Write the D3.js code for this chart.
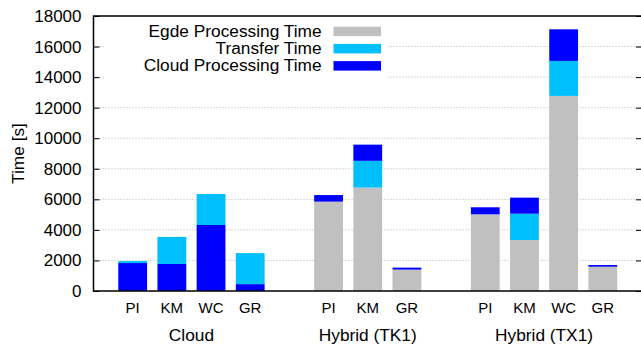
<!DOCTYPE html>
<html>
<head>
<meta charset="utf-8">
<script src="https://cdn.jsdelivr.net/npm/d3@7"></script>
<style>
  body { margin: 0; background: #fff; }
  svg { display: block; font-family: "Liberation Sans", Arial, sans-serif; }
</style>
</head>
<body>
<div id="chart"></div>
<script>
let w = 641;
let h = 346;

// data
let groups = ["Cloud", "Hybrid (TK1)", "Hybrid (TX1)"];
let apps = [["PI", "KM", "WC", "GR"], ["PI", "KM", "GR"], ["PI", "KM", "WC", "GR"]];
let edgeTime = [[0, 0, 0, 0], [5850, 6770, 1400], [5020, 3340, 12770, 1590]];
let transferTime = [[130, 1770, 2030, 2030], [0, 1750, 0], [0, 1720, 2290, 0]];
let cloudTime = [[1830, 1770, 4320, 450], [430, 1060, 130], [460, 1050, 2070, 110]];
// bottom -> top order of the stack in each group
let stackOrder = [["cloud", "transfer"], ["edge", "transfer", "cloud"], ["edge", "transfer", "cloud"]];
let yTicks = d3.range(0, 18001, 2000);

let seriesNames = {edge: "Egde Processing Time", transfer: "Transfer Time", cloud: "Cloud Processing Time"};
let seriesValues = {edge: edgeTime, transfer: transferTime, cloud: cloudTime};
let colors = {edge: "#c0c0c0", transfer: "#00bfff", cloud: "#0000ff"};
let legendOrder = ["edge", "transfer", "cloud"];

let plotLeft = 93.5, plotRight = 642, plotTop = 16, plotBottom = 291;

let svg = d3.select("#chart").append("svg")
  .attr("width", w)
  .attr("height", h);

// one slot per bar, one empty slot between groups
let bars = [];
let groupSlots = [];
let slot = 0;
groups.forEach((g, gi) => {
  let first = slot;
  apps[gi].forEach((a, ai) => {
    let y0 = 0;
    let segs = stackOrder[gi].map(k => {
      let v = seriesValues[k][gi][ai];
      let s = {key: k, y0: y0, y1: y0 + v};
      y0 += v;
      return s;
    });
    bars.push({group: gi, app: a, slot: slot, segs: segs});
    slot++;
  });
  groupSlots.push((first + slot - 1) / 2);
  slot++;
});

let xScale = d3.scaleLinear().domain([-1, slot - 1]).range([plotLeft, plotRight]);
let yScale = d3.scaleLinear().domain([0, 18000]).range([plotBottom, plotTop]);
let barW = (xScale(1) - xScale(0)) * 0.735;

// grid
svg.append("g").selectAll("line")
  .data(yTicks.filter(t => t > 0 && t < 18000))
  .enter().append("line")
    .attr("x1", plotLeft).attr("x2", plotRight)
    .attr("y1", d => yScale(d)).attr("y2", d => yScale(d))
    .attr("stroke", "#b0b0b0")
    .attr("stroke-width", 1)
    .attr("stroke-dasharray", "1,2");

// legend box hides the grid behind it
svg.append("rect")
  .attr("x", 104).attr("y", 18)
  .attr("width", 284).attr("height", 62)
  .attr("fill", "#fff");

// bars
let barGroups = svg.append("g").selectAll("g")
  .data(bars).enter().append("g");

barGroups.selectAll("rect")
  .data(d => d.segs.filter(s => s.y1 > s.y0).map(s => Object.assign({slot: d.slot}, s)))
  .enter().append("rect")
    .attr("x", d => xScale(d.slot) - barW / 2)
    .attr("width", barW)
    .attr("y", d => yScale(d.y1))
    .attr("height", d => yScale(d.y0) - yScale(d.y1))
    .attr("fill", d => colors[d.key]);

// y axis left and right (inward ticks)
let yAxisL = d3.axisLeft(yScale).tickValues(yTicks).tickFormat(d3.format("d")).tickSize(-6).tickPadding(12);
svg.append("g")
  .attr("transform", "translate(" + plotLeft + ",0)")
  .call(yAxisL)
  .call(g => g.select(".domain").remove())
  .call(g => g.selectAll("line").attr("stroke", "#000"))
  .call(g => g.selectAll("text")
    .attr("fill", "#000")
    .style("font-size", "17px"));

let yAxisR = d3.axisRight(yScale).tickValues(yTicks).tickSize(-6).tickFormat("");
svg.append("g")
  .attr("transform", "translate(" + plotRight + ",0)")
  .call(yAxisR)
  .call(g => g.select(".domain").remove())
  .call(g => g.selectAll("line").attr("stroke", "#000"));

// frame
svg.append("rect")
  .attr("x", plotLeft).attr("y", plotTop)
  .attr("width", plotRight - plotLeft).attr("height", plotBottom - plotTop)
  .attr("fill", "none")
  .attr("stroke", "#000")
  .attr("stroke-width", 1.5);

// category labels
svg.append("g").selectAll("text")
  .data(bars).enter().append("text")
    .attr("x", d => xScale(d.slot))
    .attr("y", 313)
    .attr("text-anchor", "middle")
    .style("font-size", "15px")
    .text(d => d.app);

// group labels
svg.append("g").selectAll("text")
  .data(groups).enter().append("text")
    .attr("x", (d, i) => xScale(groupSlots[i]))
    .attr("y", 341)
    .attr("text-anchor", "middle")
    .style("font-size", "17.3px")
    .text(d => d);

// y label
svg.append("text")
  .attr("transform", "rotate(-90)")
  .attr("x", -153.5)
  .attr("y", 24)
  .attr("text-anchor", "middle")
  .style("font-size", "17.3px")
  .text("Time [s]");

// legend
let legend = svg.append("g").selectAll("g")
  .data(legendOrder).enter().append("g")
    .attr("transform", (d, i) => "translate(0," + (i * 17.2) + ")");

legend.append("text")
  .attr("x", 321.5)
  .attr("y", 36.7)
  .attr("text-anchor", "end")
  .style("font-size", "17.3px")
  .text(d => seriesNames[d]);

legend.append("rect")
  .attr("x", 333.5)
  .attr("y", 26.7)
  .attr("width", 47.5)
  .attr("height", 9.5)
  .attr("fill", d => colors[d]);
</script>
</body>
</html>
